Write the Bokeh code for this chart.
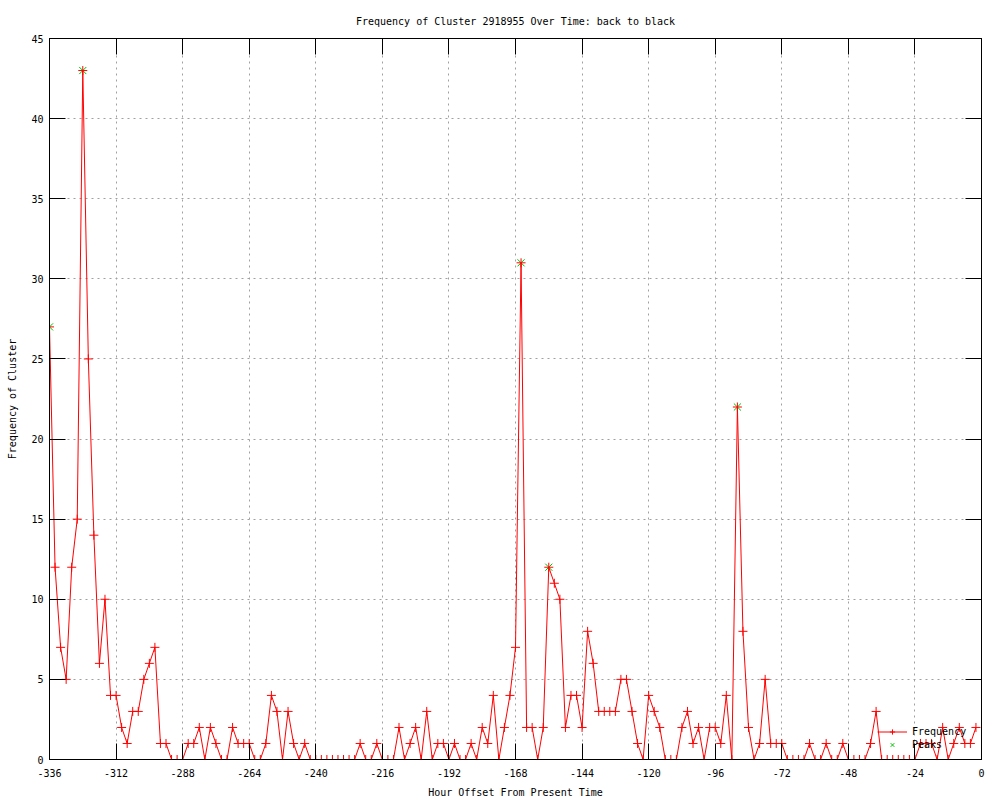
from bokeh.plotting import figure
from bokeh.models import Range1d, LinearAxis, FixedTicker, Legend, LegendItem
from bokeh.embed import file_html
from bokeh.resources import INLINE

# ---- data ----
hours = [
    -336, -334, -332, -330, -328, -326, -324, -322, -320, -318, -316, -314,
    -312, -310, -308, -306, -304, -302, -300, -298, -296, -294, -292, -290,
    -288, -286, -284, -282, -280, -278, -276, -274, -272, -270, -268, -266,
    -264, -262, -260, -258, -256, -254, -252, -250, -248, -246, -244, -242,
    -240, -238, -236, -234, -232, -230, -228, -226, -224, -222, -220, -218,
    -216, -214, -212, -210, -208, -206, -204, -202, -200, -198, -196, -194,
    -192, -190, -188, -186, -184, -182, -180, -178, -176, -174, -172, -170,
    -168, -166, -164, -162, -160, -158, -156, -154, -152, -150, -148, -146,
    -144, -142, -140, -138, -136, -134, -132, -130, -128, -126, -124, -122,
    -120, -118, -116, -114, -112, -110, -108, -106, -104, -102, -100, -98,
    -96, -94, -92, -90, -88, -86, -84, -82, -80, -78, -76, -74,
    -72, -70, -68, -66, -64, -62, -60, -58, -56, -54, -52, -50,
    -48, -46, -44, -42, -40, -38, -36, -34, -32, -30, -28, -26,
    -24, -22, -20, -18, -16, -14, -12, -10, -8, -6, -4, -2,
]
freq = [
    27, 12, 7, 5, 12, 15, 43, 25, 14, 6, 10, 4,
    4, 2, 1, 3, 3, 5, 6, 7, 1, 1, 0, 0,
    0, 1, 1, 2, 0, 2, 1, 0, 0, 2, 1, 1,
    1, 0, 0, 1, 4, 3, 0, 3, 1, 0, 1, 0,
    0, 0, 0, 0, 0, 0, 0, 0, 1, 0, 0, 1,
    0, 0, 0, 2, 0, 1, 2, 0, 3, 0, 1, 1,
    0, 1, 0, 0, 1, 0, 2, 1, 4, 0, 2, 4,
    7, 31, 2, 2, 0, 2, 12, 11, 10, 2, 4, 4,
    2, 8, 6, 3, 3, 3, 3, 5, 5, 3, 1, 0,
    4, 3, 2, 0, 0, 0, 2, 3, 1, 2, 0, 2,
    2, 1, 4, 0, 22, 8, 2, 0, 1, 5, 1, 1,
    1, 0, 0, 0, 0, 1, 0, 0, 1, 0, 0, 1,
    0, 0, 0, 0, 1, 3, 0, 0, 0, 0, 0, 0,
    0, 1, 1, 1, 0, 2, 0, 1, 2, 1, 1, 2,
]
peak_hours = [-336, -324, -166, -156, -88]
peak_freq = [27, 43, 31, 12, 22]

x_ticks = [-336, -312, -288, -264, -240, -216, -192, -168, -144, -120, -96, -72, -48, -24, 0]
x_tick_labels = ["-336", "-312", "-288", "-264", "-240", "-216", "-192", "-168",
                 "-144", "-120", "-96", "-72", "-48", "-24", "0"]
y_ticks = [0, 5, 10, 15, 20, 25, 30, 35, 40, 45]
y_tick_labels = ["0", "5", "10", "15", "20", "25", "30", "35", "40", "45"]

title_text = "Frequency of Cluster 2918955 Over Time: back to black"
x_label = "Hour Offset From Present Time"
y_label = "Frequency of Cluster"

FONT = "DejaVu Sans Mono"
FS = "10px"
RED = "#ff0000"
GREEN = "#00c000"
GRID = "#a0a0a0"

p = figure(width=1000, height=800, output_backend="svg", toolbar_location=None,
           x_range=Range1d(-336, 0), y_range=Range1d(0, 45),
           min_border_left=49, min_border_right=19, min_border_top=38, min_border_bottom=40,
           x_axis_label=x_label, y_axis_label=y_label)

p.background_fill_color = "white"
p.border_fill_color = "white"
p.outline_line_color = "black"
p.outline_line_width = 1

# title
p.title.text = title_text
p.title.align = "center"
p.title.text_font = FONT
p.title.text_font_size = FS
p.title.text_font_style = "normal"
p.title.text_color = "black"
p.title.standoff = 23

xt = FixedTicker(ticks=x_ticks)
yt = FixedTicker(ticks=y_ticks)


def style_axis(ax, ticker, labels, show_labels):
    ax.ticker = ticker
    ax.major_label_overrides = {t: (l if show_labels else "") for t, l in zip(ticker.ticks, labels)}
    ax.axis_line_color = "black"
    ax.major_tick_line_color = "black"
    ax.major_tick_in = 16
    ax.major_tick_out = 0
    ax.minor_tick_in = 0
    ax.minor_tick_out = 0
    ax.major_label_text_font = FONT
    ax.major_label_text_font_size = FS if show_labels else "0px"
    ax.major_label_text_color = "black"
    ax.axis_label_text_font = FONT
    ax.axis_label_text_font_size = FS
    ax.axis_label_text_font_style = "normal"
    ax.axis_label_text_color = "black"


xa = p.xaxis[0]
ya = p.yaxis[0]
style_axis(xa, xt, x_tick_labels, True)
style_axis(ya, yt, y_tick_labels, True)
xa.major_label_standoff = 9
xa.axis_label_standoff = 7
ya.major_label_standoff = 6
ya.axis_label_standoff = 10

top_ax = LinearAxis()
right_ax = LinearAxis()
style_axis(top_ax, FixedTicker(ticks=x_ticks), x_tick_labels, False)
style_axis(right_ax, FixedTicker(ticks=y_ticks), y_tick_labels, False)
top_ax.major_label_standoff = 0
right_ax.major_label_standoff = 0
p.add_layout(top_ax, "above")
p.add_layout(right_ax, "right")

# grid
p.xgrid.ticker = xt
p.ygrid.ticker = yt
for g in (p.xgrid[0], p.ygrid[0]):
    g.grid_line_color = GRID
    g.grid_line_dash = "2 4"
    g.grid_line_width = 1

# data
peak_r = p.scatter(peak_hours, peak_freq, marker="x", size=10, line_color=GREEN, line_width=1)
line_r = p.line(hours, freq, line_color=RED, line_width=1)
pts_r = p.scatter(hours, freq, marker="cross", size=9, line_color=RED, line_width=1)

legend = Legend(items=[LegendItem(label="Frequency", renderers=[line_r, pts_r]),
                       LegendItem(label="Peaks", renderers=[peak_r])],
                location=(828, 8))
legend.background_fill_alpha = 0
legend.border_line_color = None
legend.padding = 0
legend.spacing = 0
legend.margin = 0
legend.label_height = 13
legend.glyph_height = 13
legend.glyph_width = 30
legend.label_standoff = 5
legend.label_text_font = FONT
legend.label_text_font_size = FS
legend.label_text_color = "black"
p.add_layout(legend)

open("out.html", "w").write(file_html(p, INLINE))
